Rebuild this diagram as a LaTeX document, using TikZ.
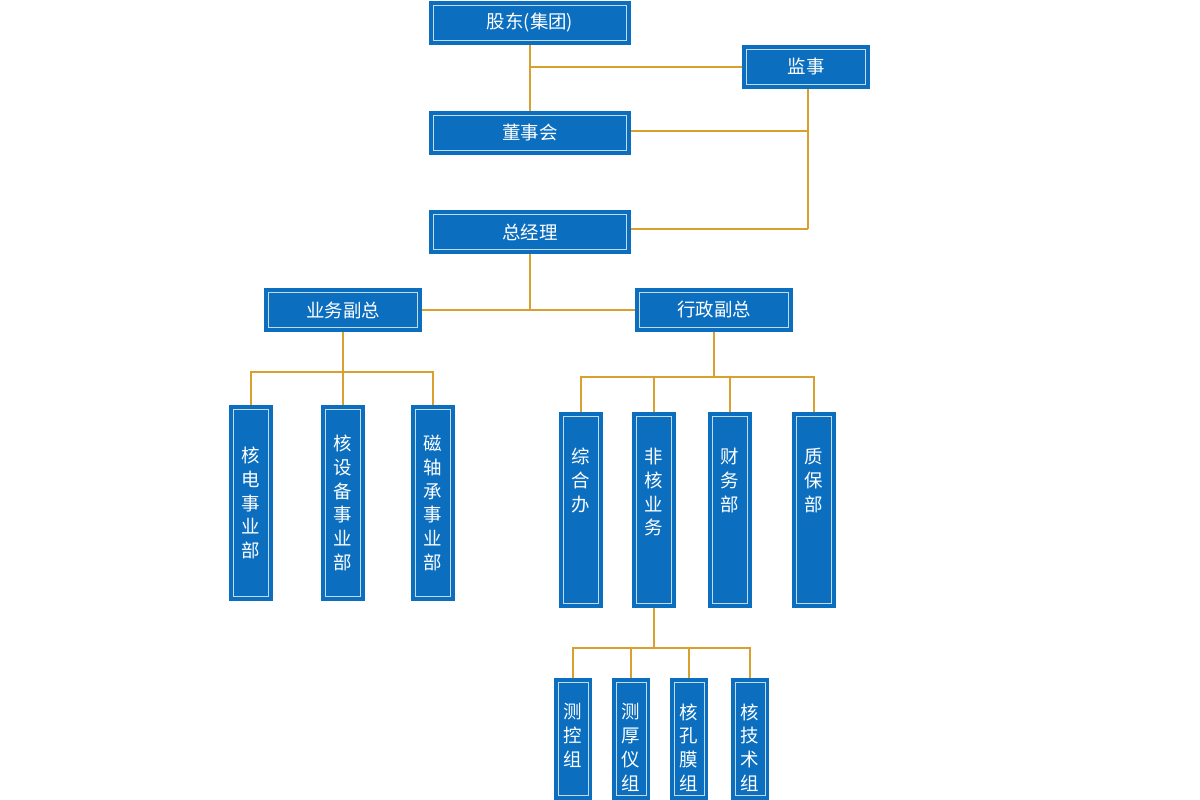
\documentclass[tikz,border=0pt]{standalone}
\usepackage{fontspec}
\newfontfamily\cjk{Noto Sans CJK SC}
\usetikzlibrary{positioning}
\definecolor{boxblue}{HTML}{0B6EBF}
\definecolor{linkorange}{HTML}{D9A030}

\begin{document}
\begin{tikzpicture}[
  x=0.02cm, y=-0.02cm,
  unit/.style={
    draw=none,
    fill=boxblue,
    text=white,
    inner sep=0pt,
    font={\cjk\fontsize{10.5}{13.5}\selectfont},
    align=center,
    path picture={
      \draw[white!75!boxblue, line width=0.5pt]
        ([shift={(2.5pt,-2.5pt)}]path picture bounding box.north west)
        rectangle ([shift={(-2.5pt,2.5pt)}]path picture bounding box.south east);
    },
  },
  wide box/.style={unit, minimum height=25pt},
  tall box/.style={unit, minimum width=25pt, minimum height=111pt},
  col box/.style={unit, minimum width=25pt, minimum height=111pt,
    label={[anchor=north, text=white, font={\cjk\fontsize{10.5}{13.5}\selectfont},
      align=center, yshift=-17pt]north:#1}},
  small box/.style={unit, minimum width=22pt, minimum height=69pt,
    label={[anchor=north, text=white, font={\cjk\fontsize{10.5}{13.5}\selectfont},
      align=center, yshift=-11pt]north:#1}},
  link/.style={draw=linkorange, line width=1.2pt},
]
  \useasboundingbox (0,0) rectangle (1200,800);

  %%%%%%%%%%%%%%%%%%%% top %%%%%%%%%%%%%%%%%%%%
  \node[wide box, minimum width=115pt] (holder) at (530,23) {股东(集团)};
  \node[wide box, minimum width=73pt] (supervisor) at (806,67) {监事};
  \node[wide box, minimum width=115pt] (board) at (530,133) {董事会};
  \node[wide box, minimum width=115pt] (manager) at (530,232) {总经理};
  \node[wide box, minimum width=90pt] (bizvp) at (343,310) {业务副总};
  \node[wide box, minimum width=90pt] (adminvp) at (714,310) {行政副总};

  \coordinate (j1) at (530,67);
  \coordinate (j2) at (808,131);
  \coordinate (j3) at (808,229);
  \coordinate (j4) at (530,310);

  \draw[link] (holder) -- (board);
  \draw[link] (j1) -- (supervisor.west);
  \draw[link] (supervisor.south -| j2) -- (j3);
  \draw[link] (board.east |- j2) -- (j2);
  \draw[link] (manager.east |- j3) -- (j3);
  \draw[link] (manager) -- (j4);
  \draw[link] (bizvp.east |- j4) -- (adminvp.west |- j4);

  %%%%%%%%%%%%%%%%%%%% business %%%%%%%%%%%%%%%%%%%%
  \node[tall box] (nuclear) at (251,503) {核\\电\\事\\业\\部};
  \node[tall box] (equip) at (343,503) {核\\设\\备\\事\\业\\部};
  \node[tall box] (bearing) at (433,503) {磁\\轴\\承\\事\\业\\部};

  \draw[link] (bizvp.south) -- (343,372);
  \foreach \n in {nuclear,equip,bearing}
    \draw[link] (\n.north) |- (343,372);

  %%%%%%%%%%%%%%%%%%%% admin %%%%%%%%%%%%%%%%%%%%
  \node[col box={综\\合\\办}] (office) at (581,510) {};
  \node[col box={非\\核\\业\\务}] (noncore) at (654,510) {};
  \node[col box={财\\务\\部}] (finance) at (730,510) {};
  \node[col box={质\\保\\部}] (quality) at (814,510) {};

  \draw[link] (adminvp.south) -- (714,377);
  \foreach \n in {office,noncore,finance,quality}
    \draw[link] (\n.north) |- (714,377);

  %%%%%%%%%%%%%%%%%%%% groups %%%%%%%%%%%%%%%%%%%%
  \node[small box={测\\控\\组}] (measure) at (573,739) {};
  \node[small box={测\\厚\\仪\\组}] (thick) at (631,739) {};
  \node[small box={核\\孔\\膜\\组}] (membrane) at (689,739) {};
  \node[small box={核\\技\\术\\组}] (tech) at (750,739) {};

  \draw[link] (noncore.south) -- (654,648);
  \foreach \n in {measure,thick,membrane,tech}
    \draw[link] (\n.north) |- (654,648);
\end{tikzpicture}
\end{document}
